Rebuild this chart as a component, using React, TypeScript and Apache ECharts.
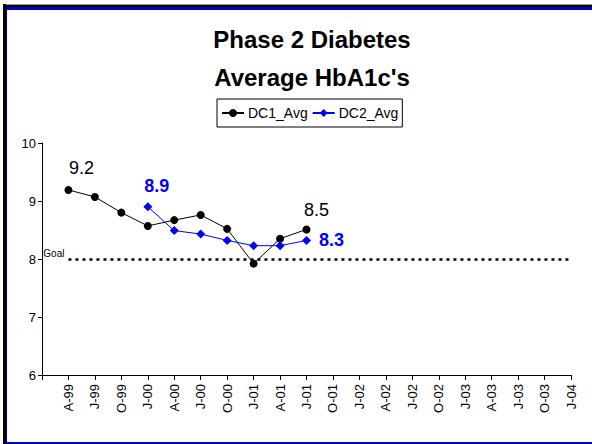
import React, { useEffect, useRef } from "react";
import * as echarts from "echarts";

const categories = ["", "A-99", "J-99", "O-99", "J-00", "A-00", "J-00", "O-00", "J-01", "A-01", "J-01", "O-01", "J-02", "A-02", "J-02", "O-02", "J-03", "A-03", "J-03", "O-03", "J-04"];
const dc1Values: (number | null)[] = [null, 9.19, 9.07, 8.8, 8.57, 8.67, 8.76, 8.52, 7.92, 8.35, 8.51];
const dc2Values: (number | null)[] = [null, null, null, null, 8.9, 8.49, 8.43, 8.32, 8.23, 8.23, 8.32];
const goalValue = 8;
const yTicks = [6, 7, 8, 9, 10];

const ARIAL = "'Liberation Sans', Arial, sans-serif";

function lastIndex(arr: (number | null)[]) {
  let k = -1;
  arr.forEach((v, i) => { if (v != null) k = i; });
  return k;
}
function firstIndex(arr: (number | null)[]) {
  return arr.findIndex((v) => v != null);
}

export default function App() {
  const ref = useRef<HTMLDivElement>(null);
  useEffect(() => {
    if (!ref.current) return;
    const chart = echarts.init(ref.current, undefined, { renderer: "svg" });
    const f1 = firstIndex(dc1Values), l1 = lastIndex(dc1Values);
    const f2 = firstIndex(dc2Values), l2 = lastIndex(dc2Values);
    const dc1Data = dc1Values.map((v, i) => {
      if (v == null) return "-";
      if (i === f1) return { value: v, label: { show: true, position: "top", offset: [13, -1], distance: 8 } };
      if (i === l1) return { value: v, label: { show: true, position: "top", offset: [10, 0], distance: 6 } };
      return v;
    });
    const dc2Data = dc2Values.map((v, i) => {
      if (v == null) return "-";
      if (i === f2) return { value: v, label: { show: true, position: "top", offset: [9, 0], distance: 7 } };
      if (i === l2) return { value: v, label: { show: true, position: "right", distance: 8 } };
      return v;
    });
    chart.setOption({
      animation: false,
      backgroundColor: "#ffffff",
      title: {
        text: "Phase 2 Diabetes\nAverage HbA1c's",
        left: 307,
        textAlign: "center",
        top: 15,
        textStyle: { fontFamily: ARIAL, fontWeight: "bold", fontSize: 24, lineHeight: 38, color: "#000" },
      },
      legend: {
        top: 99,
        left: 217,
        itemWidth: 22,
        itemHeight: 10,
        itemGap: 4,
        padding: [7, 4, 7, 4],
        borderColor: "#000",
        borderWidth: 1,
        borderRadius: 0,
        textStyle: { fontFamily: ARIAL, fontSize: 14, color: "#000", padding: [0, 0, 0, -1] },
        data: ["DC1_Avg", "DC2_Avg"],
      },
      grid: { left: 42, right: 21, top: 143, bottom: 69, containLabel: false },
      xAxis: {
        type: "category",
        data: categories,
        boundaryGap: false,
        axisLine: { lineStyle: { color: "#000", width: 1 } },
        axisTick: { interval: 0, length: 5, lineStyle: { color: "#000" } },
        axisLabel: { interval: 0, rotate: 90, fontFamily: ARIAL, fontSize: 13, color: "#000", margin: 9 },
        splitLine: { show: false },
      },
      yAxis: {
        type: "value",
        min: yTicks[0],
        max: yTicks[yTicks.length - 1],
        interval: 1,
        axisLine: { show: true, lineStyle: { color: "#000", width: 1 } },
        axisTick: { show: true, length: 4, lineStyle: { color: "#000" } },
        axisLabel: { fontFamily: ARIAL, fontSize: 13, color: "#000", margin: 6 },
        splitLine: { show: false },
      },
      series: [
        {
          name: "DC1_Avg",
          type: "line",
          data: dc1Data,
          connectNulls: false,
          symbol: "circle",
          symbolSize: 8,
          color: "#000",
          itemStyle: { color: "#000" },
          lineStyle: { color: "#000", width: 1 },
          label: { show: false, fontFamily: ARIAL, fontSize: 18, color: "#000", formatter: (p: any) => Number(p.value).toFixed(1) },
          markLine: {
            silent: true,
            symbol: "none",
            lineStyle: { color: "#000", width: 2.5, type: [3, 4] },
            label: {
              show: true,
              position: "start",
              formatter: "Goal\n ",
              fontFamily: ARIAL,
              fontSize: 10,
              lineHeight: 12,
              color: "#000",
              distance: 4,
            },
            data: [[{ coord: [categories[1], goalValue] }, { coord: [categories[categories.length - 1], goalValue] }]],
          },
        },
        {
          name: "DC2_Avg",
          type: "line",
          data: dc2Data,
          symbol: "diamond",
          symbolSize: 9,
          color: "#0000ff",
          itemStyle: { color: "#0000ff" },
          lineStyle: { color: "#0000ff", width: 1 },
          label: { show: false, fontFamily: ARIAL, fontWeight: "bold", fontSize: 18, color: "#0000ff", formatter: (p: any) => Number(p.value).toFixed(1) },
        },
      ],
      graphic: [
        { type: "rect", shape: { x: 3, y: 4, width: 589, height: 1 }, style: { fill: "#999999" }, silent: true },
        { type: "rect", shape: { x: 3, y: 5, width: 589, height: 2 }, style: { fill: "#000000" }, silent: true },
        { type: "rect", shape: { x: 7, y: 7, width: 585, height: 3 }, style: { fill: "#0000c8" }, silent: true },
        { type: "rect", shape: { x: 3, y: 4, width: 3, height: 440 }, style: { fill: "#000000" }, silent: true },
        { type: "rect", shape: { x: 6, y: 7, width: 1, height: 437 }, style: { fill: "#000080" }, silent: true },
        { type: "rect", shape: { x: 6, y: 442, width: 586, height: 2 }, style: { fill: "#0000c8" }, silent: true },
      ],
    });
    return () => chart.dispose();
  }, []);
  return <div ref={ref} style={{ position: "fixed", left: 0, top: 0, width: 592, height: 444 }} />;
}
